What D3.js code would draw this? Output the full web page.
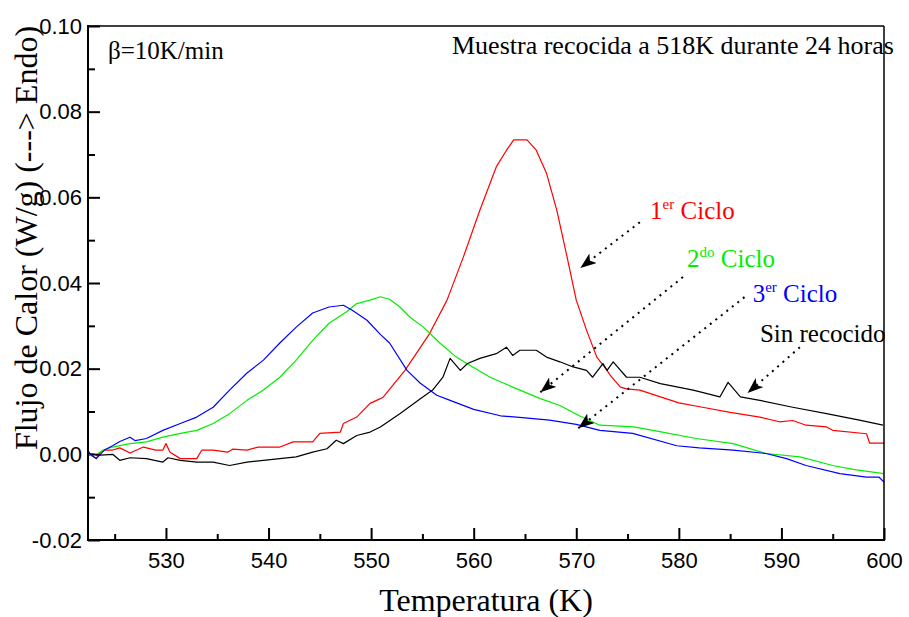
<!DOCTYPE html>
<html><head><meta charset="utf-8">
<script src="https://cdn.jsdelivr.net/npm/d3@7"></script>
<style>body{margin:0;background:#fff}svg{display:block}</style>
</head><body>
<svg id="c" width="909" height="617"></svg>
<script>
// ---- data ----
const redT = [522.4,522.6,523.2,523.6,524.0,524.8,525.5,526.5,527.8,529.0,529.7,530.0,530.4,531.4,533.0,533.5,534.6,536.0,536.5,537.9,539.0,541.1,542.4,544.3,545.0,547.0,547.3,548.6,549.9,550.9,551.2,553.3,555.7,557.4,559.0,560.6,562.2,563.2,563.9,565.2,566.1,567.1,568.1,569.1,570.0,571.0,572.0,573.0,573.3,574.3,574.9,576.2,578.2,580.0,582.3,585.0,587.9,589.8,591.1,592.4,594.4,595.0,598.3,598.6,600.0];
const redV = [0.000,0.000,-0.001,0.0005,0.001,0.001,0.0015,0.0003,0.0017,0.001,0.001,0.0025,0.0005,-0.001,-0.001,0.001,0.001,0.0005,0.0012,0.001,0.0017,0.0017,0.0029,0.0029,0.0049,0.0052,0.0072,0.0087,0.0119,0.013,0.0134,0.0196,0.0282,0.036,0.0461,0.057,0.0671,0.071,0.0734,0.0734,0.071,0.0656,0.057,0.0461,0.036,0.029,0.0227,0.0196,0.0185,0.0157,0.0153,0.015,0.0134,0.012,0.011,0.0098,0.0087,0.0076,0.0079,0.0068,0.0064,0.0056,0.0048,0.0026,0.0026];

const greenT = [522.4,522.9,523.9,524.8,526.5,528.1,529.7,531.4,533.0,534.6,536.2,537.9,539.5,541.1,542.7,544.3,545.9,547.6,548.6,549.9,550.9,551.8,552.8,553.8,555.1,556.7,558.3,559.9,561.6,563.8,566.5,568.4,570.3,572.3,575.6,578.4,581.7,585.3,588.5,591.8,595.0,597.0,600.0];
const greenV = [0.000,-0.0005,0.001,0.0017,0.0025,0.0029,0.004,0.0049,0.0056,0.0072,0.0095,0.0126,0.015,0.018,0.022,0.0266,0.0306,0.0333,0.0352,0.036,0.0368,0.0362,0.0344,0.032,0.0297,0.026,0.0227,0.0204,0.018,0.0157,0.013,0.0114,0.009,0.0068,0.0064,0.0052,0.0037,0.0025,0.0002,-0.0006,-0.0026,-0.0035,-0.0045];

const blueT = [522.4,522.6,523.2,524.0,524.8,525.5,526.5,527.0,528.1,529.7,531.4,533.0,534.6,536.2,537.9,539.5,541.1,542.7,544.3,545.9,547.3,548.2,549.6,550.9,551.8,553.5,554.8,556.4,557.7,560.0,562.6,565.0,567.4,570.0,572.3,575.5,579.8,582.0,585.3,588.5,590.5,592.4,595.7,598.3,599.5,600.0];
const blueV = [0.001,0.000,-0.001,0.001,0.002,0.003,0.004,0.0032,0.0037,0.0056,0.0072,0.0087,0.011,0.015,0.019,0.022,0.026,0.0297,0.033,0.0344,0.0348,0.0336,0.0313,0.028,0.026,0.0196,0.0166,0.0138,0.0126,0.0105,0.009,0.0085,0.008,0.007,0.0056,0.0049,0.002,0.0015,0.001,0.0002,-0.001,-0.0026,-0.0045,-0.0053,-0.0053,-0.0065];

const blackT = [522.4,522.6,523.6,524.8,525.5,526.5,528.1,529.7,530.2,531.4,533.0,534.6,536.2,537.9,539.5,541.1,542.7,544.3,545.7,546.6,547.3,548.6,549.9,550.9,552.8,554.8,556.0,557.0,557.7,558.7,559.4,560.6,562.2,563.2,563.8,564.5,566.1,567.1,568.4,569.7,571.0,571.6,572.6,573.0,573.6,574.9,576.2,578.2,581.4,584.0,584.8,586.0,587.9,591.1,594.4,597.6,599.9];
const blackV = [0.0003,0.0002,-0.0002,0.000,-0.0014,-0.0008,-0.001,-0.0018,-0.0008,-0.0014,-0.0018,-0.0018,-0.0026,-0.0018,-0.0014,-0.001,-0.0006,0.0005,0.0013,0.0033,0.0025,0.0044,0.0052,0.0064,0.0095,0.013,0.015,0.018,0.0224,0.0196,0.0212,0.0224,0.0235,0.025,0.0231,0.0243,0.0243,0.0227,0.0216,0.0204,0.0196,0.018,0.0212,0.0196,0.0216,0.018,0.018,0.0165,0.015,0.0134,0.0168,0.0134,0.0126,0.011,0.0095,0.008,0.0068];

const xTicks = [530,540,550,560,570,580,590,600];
const yTicks = [-0.02,0.00,0.02,0.04,0.06,0.08,0.10];

// annotations
const labelMain = ["1","2","3","Sin recocido"];
const labelSup  = ["er","do","er",""];
const labelRest = [" Ciclo"," Ciclo"," Ciclo",""];
const labelColor = ["#ff0000","#00ee00","#0000ff","#000000"];
const labelT = [577.2,580.8,587.2,587.9];
const labelV = [0.0549,0.0437,0.0355,0.0262];
const arrowFrom = [[576.2,0.0542],[580.4,0.0414],[586.4,0.0367],[591.8,0.0250]];
const arrowTo   = [[570.4,0.0435],[566.5,0.0145],[570.2,0.0061],[586.7,0.0143]];

// ---- layout ----
const svg = d3.select("#c");
const L = 88, R = 884, T = 26, B = 540;
const x = d3.scaleLinear().domain([522.4, 600]).range([L, R]);
const y = d3.scaleLinear().domain([-0.02, 0.10]).range([B, T]);
const yFmt = v => d3.format(".2f")(v).replace("\u2212","-");

// minor ticks
svg.append("g").attr("transform",`translate(0,${B})`)
  .call(d3.axisBottom(x).tickValues(d3.range(525,600,10)).tickSize(-6).tickFormat(""))
  .call(g=>g.select(".domain").remove())
  .call(g=>g.selectAll("line").attr("stroke","#000").attr("stroke-width",2));
svg.append("g").attr("transform",`translate(${L},0)`)
  .call(d3.axisLeft(y).tickValues([-0.01,0.01,0.03,0.05,0.07,0.09]).tickSize(-7).tickFormat(""))
  .call(g=>g.select(".domain").remove())
  .call(g=>g.selectAll("line").attr("stroke","#000").attr("stroke-width",2));
// major
svg.append("g").attr("transform",`translate(0,${B})`)
  .call(d3.axisBottom(x).tickValues(xTicks).tickSize(-12).tickPadding(12).tickFormat(d3.format("d")))
  .call(g=>g.select(".domain").remove())
  .call(g=>g.selectAll("line").attr("stroke","#000").attr("stroke-width",2))
  .call(g=>g.selectAll("text").attr("font-family","Liberation Sans, Arial, sans-serif").attr("font-size",22).attr("fill","#000"));
svg.append("g").attr("transform",`translate(${L},0)`)
  .call(d3.axisLeft(y).tickValues(yTicks).tickSize(-12).tickPadding(6).tickFormat(yFmt))
  .call(g=>g.select(".domain").remove())
  .call(g=>g.selectAll("line").attr("stroke","#000").attr("stroke-width",2))
  .call(g=>g.selectAll("text").attr("font-family","Liberation Sans, Arial, sans-serif").attr("font-size",22).attr("fill","#000"));

// curves
svg.append("defs").append("clipPath").attr("id","pc").append("rect")
  .attr("x",L).attr("y",T).attr("width",R-L).attr("height",B-T);
const line = d3.line().x(d=>x(d[0])).y(d=>y(d[1]));
const series = [
  [redT, redV, "#ff0000"],
  [greenT, greenV, "#00ee00"],
  [blueT, blueV, "#0000ff"],
  [blackT, blackV, "#000000"]
];
const gc = svg.append("g").attr("clip-path","url(#pc)");
series.forEach(([ts,vs,c])=>{
  gc.append("path").datum(ts.map((t,i)=>[t,vs[i]]))
    .attr("d",line).attr("fill","none").attr("stroke",c).attr("stroke-width",1.2)
    .attr("stroke-linejoin","round");
});

// frame
svg.append("line").attr("x1",L).attr("x2",L).attr("y1",T-1).attr("y2",B+1).attr("stroke","#000").attr("stroke-width",2);
svg.append("line").attr("x1",L-1).attr("x2",R+1).attr("y1",B).attr("y2",B).attr("stroke","#000").attr("stroke-width",2);
svg.append("line").attr("x1",L).attr("x2",R).attr("y1",T).attr("y2",T).attr("stroke","#000").attr("stroke-width",1.5);
svg.append("line").attr("x1",R).attr("x2",R).attr("y1",T).attr("y2",B).attr("stroke","#000").attr("stroke-width",1.5);

// arrows
svg.append("defs").append("marker").attr("id","ah")
  .attr("markerUnits","userSpaceOnUse").attr("markerWidth",18).attr("markerHeight",12)
  .attr("refX",16).attr("refY",6).attr("orient","auto")
  .append("path").attr("d","M0,0 L16,6 L0,12 L4,6 Z").attr("fill","#000");
arrowFrom.forEach((f,i)=>{
  const t = arrowTo[i];
  svg.append("line").attr("x1",x(f[0])).attr("y1",y(f[1])).attr("x2",x(t[0])).attr("y2",y(t[1]))
    .attr("stroke","#000").attr("stroke-width",2).attr("stroke-dasharray","2,5")
    .attr("marker-end","url(#ah)");
});

// labels
const serif = "Liberation Serif, Times New Roman, serif";
labelMain.forEach((m,i)=>{
  const tx = svg.append("text").attr("x",x(labelT[i])).attr("y",y(labelV[i]))
    .attr("font-family",serif).attr("font-size",25).attr("fill",labelColor[i]);
  tx.append("tspan").text(m);
  if(labelSup[i]){
    tx.append("tspan").attr("font-size",15).attr("dy",-10).text(labelSup[i]);
    tx.append("tspan").attr("dy",10).text(labelRest[i]);
  }
});

svg.append("text").attr("x",108).attr("y",59).attr("font-family",serif).attr("font-size",25).text("β=10K/min");
svg.append("text").attr("x",452).attr("y",54).attr("font-family",serif).attr("font-size",26).text("Muestra recocida a 518K durante 24 horas");

svg.append("text").attr("x",(L+R)/2).attr("y",611).attr("text-anchor","middle")
  .attr("font-family",serif).attr("font-size",32).text("Temperatura (K)");
svg.append("text").attr("transform","translate(37,238) rotate(-90)").attr("text-anchor","middle")
  .attr("font-family",serif).attr("font-size",32).text("Flujo de Calor (W/g) (---> Endo)");
</script>
</body></html>
